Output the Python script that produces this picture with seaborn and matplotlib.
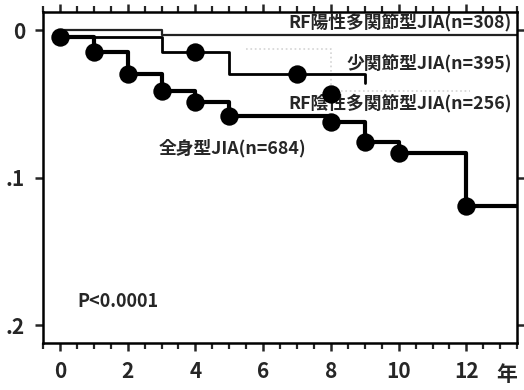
import numpy as np
import seaborn as sns
import matplotlib.pyplot as plt
from matplotlib.ticker import MultipleLocator, FixedLocator

# cumulative incidence by JIA subtype (years vs. proportion)
sys_t = [0, 1, 2, 3, 4, 5, 8, 9, 10, 12, 13.5]
sys_y = [0.005, 0.015, 0.030, 0.041, 0.049, 0.058, 0.062, 0.076, 0.083, 0.119, 0.119]
sys_dot_t = [0, 1, 2, 3, 4, 5, 8, 9, 10, 12]
sys_dot_y = [0.005, 0.015, 0.030, 0.041, 0.049, 0.058, 0.062, 0.076, 0.083, 0.119]

oligo_t = [0, 3, 5, 9]
oligo_y = [0.005, 0.015, 0.030, 0.036]
oligo_dot_t = [4, 7]
oligo_dot_y = [0.015, 0.030]

rfpos_t = [0, 3, 13.5]
rfpos_y = [0.0, 0.003, 0.003]

rfneg_t = [5.5, 8, 12.1]
rfneg_y = [0.013, 0.041, 0.041]
rfneg_dot_t = [8]
rfneg_dot_y = [0.043]

labels = ["RF陽性多関節型JIA(n=308)", "少関節型JIA(n=395)",
          "RF陰性多関節型JIA(n=256)", "全身型JIA(n=684)"]
yticks = [0, 0.1, 0.2]
yticklabels = ["0", ".1", ".2"]
xticks = [0, 2, 4, 6, 8, 10, 12]

sns.set_style("ticks")
plt.rcParams['font.family'] = ['Liberation Sans Narrow', 'Noto Sans CJK JP', 'DejaVu Sans']
cjk = ['Noto Sans CJK JP', 'DejaVu Sans']

fig = plt.figure(figsize=(5.24, 3.90), dpi=100)
ax = fig.add_axes([0.082, 0.1205, 0.905, 0.8485])

# faint / thin curves first
sns.lineplot(x=rfneg_t, y=rfneg_y, drawstyle='steps-post', color='#d4d4d4',
             lw=1.2, ls=':', estimator=None, sort=False, ax=ax)
sns.lineplot(x=rfpos_t, y=rfpos_y, drawstyle='steps-post', color='#222222',
             lw=1.6, estimator=None, sort=False, ax=ax)
sns.lineplot(x=oligo_t, y=oligo_y, drawstyle='steps-post', color='black',
             lw=2.0, estimator=None, sort=False, ax=ax)
sns.lineplot(x=sys_t, y=sys_y, drawstyle='steps-post', color='black',
             lw=3.0, estimator=None, sort=False, ax=ax)

for tx, ty in [(sys_dot_t, sys_dot_y), (oligo_dot_t, oligo_dot_y),
               (rfneg_dot_t, rfneg_dot_y)]:
    sns.scatterplot(x=tx, y=ty, s=175, color='black', edgecolor='black',
                    linewidth=0, zorder=5, ax=ax)

ax.set_xlim(-0.5, 13.5)
ax.set_ylim(0.212, -0.0122)

ax.xaxis.set_major_locator(FixedLocator(xticks))
ax.xaxis.set_minor_locator(MultipleLocator(0.5))
ax.set_yticks(yticks)
ax.set_yticklabels(yticklabels)
ax.tick_params(axis='both', which='major', direction='out', length=6, width=1.8,
               top=True, right=True, labelsize=15, pad=7)
ax.tick_params(axis='x', which='minor', direction='out', length=4, width=1.6,
               top=True)
for lab in ax.get_xticklabels() + ax.get_yticklabels():
    lab.set_fontweight('bold')
for sp in ax.spines.values():
    sp.set_linewidth(1.8)
    sp.set_color('black')

kw = dict(fontsize=12.8, fontweight='bold', family=cjk, va='center')
ax.text(13.35, -0.0054, labels[0], ha='right', **kw)
ax.text(13.35, 0.0224, labels[1], ha='right', **kw)
ax.text(13.35, 0.0495, labels[2], ha='right', **kw)
ax.text(2.9, 0.080, labels[3], ha='left', **kw)
ax.text(0.53, 0.184, "P<0.0001", ha='left', va='center', fontsize=13,
        fontweight='bold')
ax.text(0.978, -0.095, "年", transform=ax.transAxes, ha='center', va='center',
        fontsize=15, fontweight='bold', family=cjk)

fig.savefig("out.png", dpi=100)
